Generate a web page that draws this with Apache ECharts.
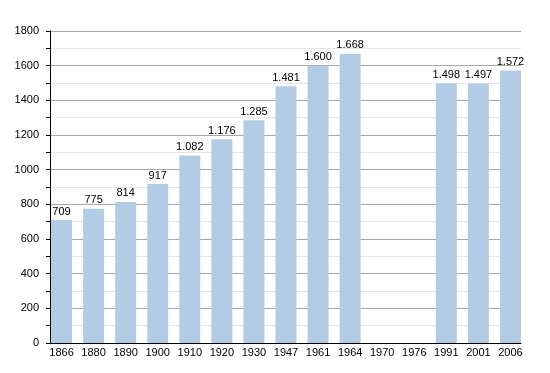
<!DOCTYPE html>
<html>
<head>
<meta charset="utf-8">
<script src="https://cdn.jsdelivr.net/npm/echarts@6/dist/echarts.min.js"></script>
<style>html,body{margin:0;padding:0;background:#fff}#c{width:550px;height:373px}</style>
</head>
<body>
<div id="c"></div>
<script>
const years = ['1866','1880','1890','1900','1910','1920','1930','1947','1961','1964','1970','1976','1991','2001','2006'];
const population = [709, 775, 814, 917, 1082, 1176, 1285, 1481, 1600, 1668, null, null, 1498, 1497, 1572];
const yTicks = { min: 0, max: 1800, interval: 200 };

function fmt(v) {
  return String(v).replace(/\B(?=(\d{3})+(?!\d))/g, '.');
}
const font = 'Liberation Sans, Arial, Helvetica, sans-serif';
const chart = echarts.init(document.getElementById('c'), null, { renderer: 'canvas' });
chart.setOption({
  animation: false,
  backgroundColor: '#fff',
  grid: [
    { left: 50, right: 29, top: 31, bottom: 30, containLabel: false },
    { left: 45.5, right: 23.5, top: 31, bottom: 30, containLabel: false }
  ],
  xAxis: [
    { gridIndex: 0, type: 'value', min: 0, max: 1, show: true,
      axisLine: { show: true, lineStyle: { color: '#000', width: 1 } },
      axisTick: { show: false }, axisLabel: { show: false }, splitLine: { show: false } },
    { gridIndex: 1, type: 'category', data: years,
      axisLine: { show: false }, axisTick: { show: false },
      axisLabel: { color: '#000', fontSize: 11, fontFamily: font, margin: 4, interval: 0 } }
  ],
  yAxis: [
    { gridIndex: 0, type: 'value', min: yTicks.min, max: yTicks.max, interval: yTicks.interval,
      axisLine: { show: true, lineStyle: { color: '#000', width: 1 } },
      axisTick: { show: true, length: 4, lineStyle: { color: '#000' } },
      minorTick: { show: true, splitNumber: 2, length: 4, lineStyle: { color: '#000' } },
      axisLabel: { color: '#000', fontSize: 11, fontFamily: font, margin: 11, formatter: v => String(v) },
      splitLine: { show: true, lineStyle: { color: '#a8a8a8', width: 1 } },
      minorSplitLine: { show: true, lineStyle: { color: '#e6e6e6', width: 1 } } },
    { gridIndex: 1, type: 'value', min: yTicks.min, max: yTicks.max, show: false, splitLine: { show: false } }
  ],
  series: [{
    type: 'bar',
    xAxisIndex: 1, yAxisIndex: 1,
    data: population,
    barWidth: 21,
    itemStyle: { color: '#b3cce5' },
    label: { show: true, position: 'top', distance: 3, color: '#000', fontSize: 11, fontFamily: font,
      formatter: p => p.value == null ? '' : fmt(p.value) }
  }]
});
</script>
</body>
</html>
